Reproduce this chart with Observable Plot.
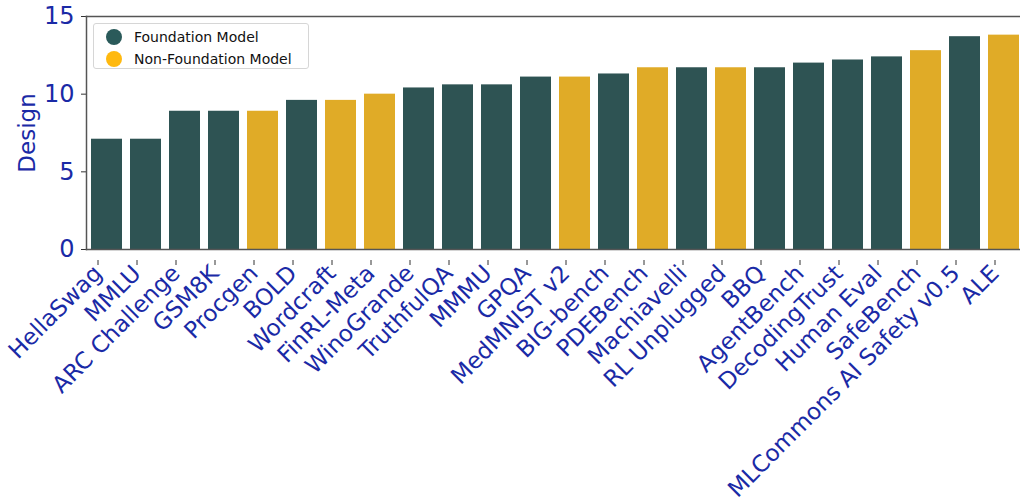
<!DOCTYPE html>
<html>
<head>
<meta charset="utf-8">
<script src="https://cdn.jsdelivr.net/npm/d3@7"></script>
<script src="https://cdn.jsdelivr.net/npm/@observablehq/plot@0.6"></script>
<style>
  html, body { margin: 0; padding: 0; background: #fff; }
  #wrap { position: relative; width: 1020px; height: 502px; font-family: "DejaVu Sans", sans-serif; }
  #legend { position: absolute; left: 93px; top: 23px; width: 216px; height: 46px; border: 1px solid #d6d6d6; border-radius: 3px; background: rgba(255,255,255,0.85); box-sizing: border-box; font-size: 14px; color: #111; }
  .item { position: absolute; left: 12px; height: 18px; display: flex; align-items: center; }
  .dot { width: 16px; height: 16px; border-radius: 50%; margin-right: 12px; }
</style>
</head>
<body>
<div id="wrap">
  <div id="chart"></div>
  <div id="legend"></div>
</div>
<script>
const benchmarks = ["HellaSwag","MMLU","ARC Challenge","GSM8K","Procgen","BOLD","Wordcraft","FinRL-Meta","WinoGrande","TruthfulQA","MMMU","GPQA","MedMNIST v2","BIG-bench","PDEBench","Machiavelli","RL Unplugged","BBQ","AgentBench","DecodingTrust","Human Eval","SafeBench","MLCommons AI Safety v0.5","ALE"];
const design = [7.1,7.1,8.9,8.9,8.9,9.6,9.6,10.0,10.4,10.6,10.6,11.1,11.1,11.3,11.7,11.7,11.7,11.7,12.0,12.2,12.4,12.8,13.7,13.8];
const modelType = ["F","F","F","F","N","F","N","N","F","F","F","F","N","F","N","F","N","F","F","F","F","N","F","N"];
const typeNames = {F: "Foundation Model", N: "Non-Foundation Model"};
const barColors = {F: "#2e5353", N: "#e0ab27"};
const legendColors = {F: "#2a5a5a", N: "#ffb90f"};
const yTicks = [0, 5, 10, 15];

const data = benchmarks.map((b, i) => ({benchmark: b, design: design[i], type: typeNames[modelType[i]]}));
const blue = "#1a2aa6";

const chart = Plot.plot({
  width: 1020,
  height: 502,
  marginLeft: 86,
  marginRight: 0,
  marginTop: 16,
  marginBottom: 253,
  style: {fontFamily: "DejaVu Sans, sans-serif", background: "white", overflow: "visible"},
  x: {domain: benchmarks, range: [86, 1024], paddingInner: 0.2, paddingOuter: 0.1, axis: null},
  y: {domain: [0, 15], axis: null},
  color: {domain: [typeNames.F, typeNames.N], range: [barColors.F, barColors.N]},
  marks: [
    Plot.barY(data, {x: "benchmark", y: "design", fill: "type"}),
    Plot.axisY({ticks: yTicks, tickSize: 5, tickPadding: 7, fontSize: 24, color: blue, stroke: "#333", strokeWidth: 1, label: null}),
    Plot.text(["Design"], {frameAnchor: "left", textAnchor: "middle", dx: -59, rotate: -90, fontSize: 23, fill: blue}),
    Plot.axisX({tickSize: 5, tickPadding: 4, tickRotate: -45, fontSize: 23, dx: -9, dy: 11, color: blue, stroke: "#333", strokeWidth: 1, label: null}),
    Plot.frame({anchor: "left", stroke: "#555", strokeWidth: 1.5}),
    Plot.frame({anchor: "top", stroke: "#555", strokeWidth: 1.5}),
    Plot.frame({anchor: "bottom", stroke: "#555", strokeWidth: 1.5})
  ]
});
document.getElementById("chart").appendChild(chart);

const legend = document.getElementById("legend");
["F", "N"].forEach((k, i) => {
  const it = document.createElement("div");
  it.className = "item";
  it.style.top = (4 + i * 21.5) + "px";
  it.innerHTML = `<span class="dot" style="background:${legendColors[k]}"></span><span>${typeNames[k]}</span>`;
  legend.appendChild(it);
});
</script>
</body>
</html>
